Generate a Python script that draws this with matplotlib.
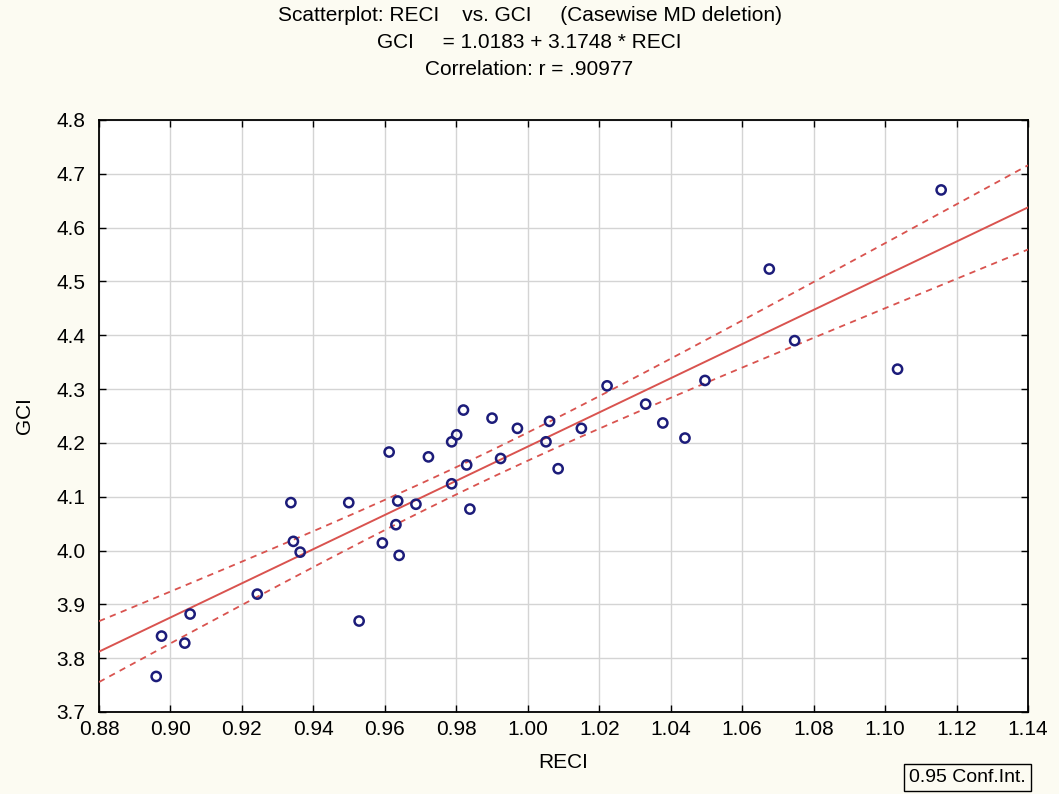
import numpy as np
import matplotlib
matplotlib.use("Agg")
import matplotlib.pyplot as plt
from matplotlib import font_manager

# RECI / GCI observations
reci = [0.896, 0.8975, 0.904, 0.9055, 0.9243, 0.9337, 0.9344, 0.9363, 0.9499,
        0.9528, 0.9593, 0.9612, 0.9636, 0.9631, 0.964, 0.9722, 0.982, 0.9801,
        0.9787, 0.9829, 0.9787, 0.9838, 0.9687, 0.990, 0.9924, 0.9971, 1.0061,
        1.0051, 1.0085, 1.015, 1.0222, 1.033, 1.0378, 1.044, 1.0496, 1.0676,
        1.0747, 1.1035, 1.1157]
gci = [3.766, 3.841, 3.828, 3.882, 3.919, 4.089, 4.017, 3.997, 4.089,
       3.869, 4.014, 4.183, 4.092, 4.048, 3.991, 4.174, 4.261, 4.215,
       4.202, 4.159, 4.124, 4.077, 4.086, 4.246, 4.171, 4.227, 4.240,
       4.202, 4.152, 4.227, 4.306, 4.272, 4.237, 4.209, 4.316, 4.523,
       4.390, 4.337, 4.670]

intercept = 1.0183
slope = 3.1748
r_value = ".90977"

x_ticks = [0.88, 0.90, 0.92, 0.94, 0.96, 0.98, 1.00, 1.02, 1.04, 1.06, 1.08, 1.10, 1.12, 1.14]
y_ticks = [3.7, 3.8, 3.9, 4.0, 4.1, 4.2, 4.3, 4.4, 4.5, 4.6, 4.7, 4.8]

names = {f.name for f in font_manager.fontManager.ttflist}
family = "Liberation Sans Narrow" if "Liberation Sans Narrow" in names else "Liberation Sans"
plt.rcParams["font.family"] = [family, "DejaVu Sans"]

bg = "#fcfbf2"
fig = plt.figure(figsize=(10.59, 7.94), dpi=100, facecolor=bg)
ax = fig.add_axes([0.0935, 0.1033, 0.8772, 0.7456])
ax.set_facecolor("white")

x = np.array(reci)
y = np.array(gci)

# regression line and 95% confidence band for the mean
xs = np.linspace(x_ticks[0], x_ticks[-1], 200)
fit = intercept + slope * xs
n = len(x)
resid = y - (intercept + slope * x)
s = np.sqrt(np.sum(resid ** 2) / (n - 2))
sxx = np.sum((x - x.mean()) ** 2)
t = 2.026
half = t * s * np.sqrt(1.0 / n + (xs - x.mean()) ** 2 / sxx)

line_col = "#d9534f"
ax.plot(xs, fit, color=line_col, lw=1.4, zorder=3)
ax.plot(xs, fit + half, color=line_col, lw=1.3, ls=(0, (3.5, 3)), zorder=3)
ax.plot(xs, fit - half, color=line_col, lw=1.3, ls=(0, (3.5, 3)), zorder=3)

ax.scatter(x, y, s=44, facecolors="none", edgecolors="#1c1c7a", linewidths=1.8, zorder=4)

ax.set_xlim(x_ticks[0], x_ticks[-1])
ax.set_ylim(y_ticks[0], y_ticks[-1])
ax.set_xticks(x_ticks)
ax.set_xticklabels([f"{v:.2f}" for v in x_ticks])
ax.set_yticks(y_ticks)
ax.set_yticklabels([f"{v:.1f}" for v in y_ticks])
ax.grid(True, color="#d4d4d4", lw=1.0, zorder=0)
ax.set_axisbelow(True)
ax.tick_params(direction="in", length=5, width=1, top=True, right=True,
               labelsize=15, colors="black")
ax.tick_params(axis="x", pad=6)
ax.tick_params(axis="y", pad=10)
for sp in ax.spines.values():
    sp.set_linewidth(1.3)
    sp.set_color("black")

ax.set_xlabel("RECI", fontsize=15, labelpad=10)
ax.set_ylabel("GCI", fontsize=15, labelpad=16)

fig.text(0.5, 0.993, "Scatterplot: RECI    vs. GCI     (Casewise MD deletion)",
         ha="center", va="top", fontsize=15)
fig.text(0.5, 0.958, f"GCI     = {intercept:.4f} + {slope:.4f} * RECI",
         ha="center", va="top", fontsize=15)
fig.text(0.5, 0.924, f"Correlation: r = {r_value}",
         ha="center", va="top", fontsize=15)

fig.text(0.9685, 0.010, "0.95 Conf.Int.", ha="right", va="bottom", fontsize=14,
         bbox=dict(boxstyle="square,pad=0.25", facecolor=bg, edgecolor="black", lw=1))

fig.savefig("out.png", dpi=100, facecolor=bg)
